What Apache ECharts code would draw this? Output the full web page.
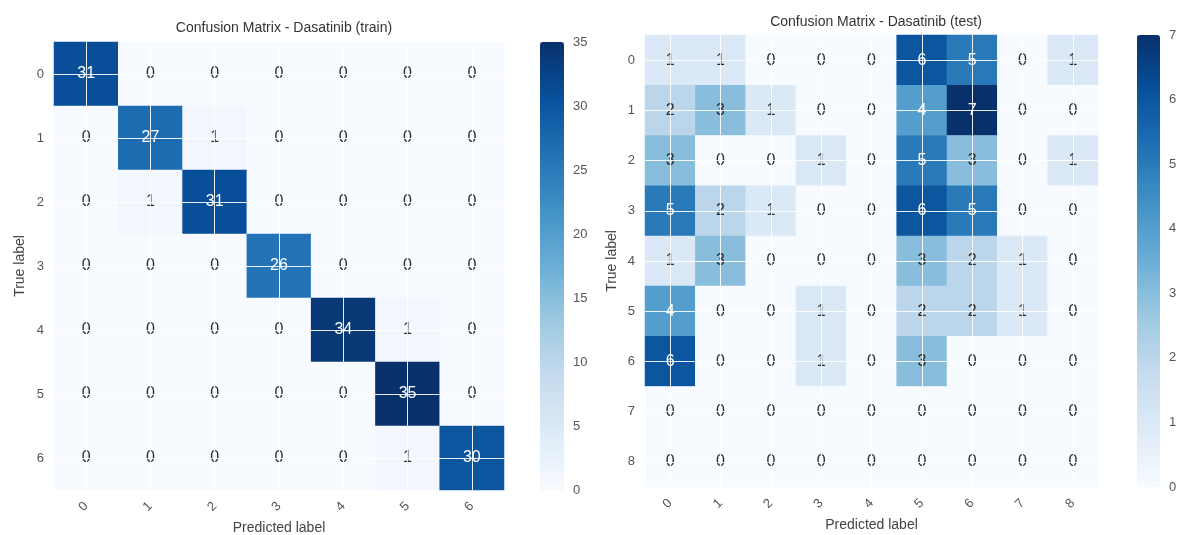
<!DOCTYPE html>
<html>
<head>
<meta charset="utf-8">
<script src="https://cdn.jsdelivr.net/npm/echarts@6/dist/echarts.min.js"></script>
<style>
  html, body { margin: 0; padding: 0; background: #fff; }
  #chart { width: 1181px; height: 535px; }
</style>
</head>
<body>
<div id="chart"></div>
<script>
// Class labels for both matrices
const trainLabels = ['0', '1', '2', '3', '4', '5', '6'];
const testLabels = ['0', '1', '2', '3', '4', '5', '6', '7', '8'];

// Confusion matrix rows (true label) x columns (predicted label)
const trainMatrix = [
  [31, 0, 0, 0, 0, 0, 0],
  [0, 27, 1, 0, 0, 0, 0],
  [0, 1, 31, 0, 0, 0, 0],
  [0, 0, 0, 26, 0, 0, 0],
  [0, 0, 0, 0, 34, 1, 0],
  [0, 0, 0, 0, 0, 35, 0],
  [0, 0, 0, 0, 0, 1, 30]
];
const testMatrix = [
  [1, 1, 0, 0, 0, 6, 5, 0, 1],
  [2, 3, 1, 0, 0, 4, 7, 0, 0],
  [3, 0, 0, 1, 0, 5, 3, 0, 1],
  [5, 2, 1, 0, 0, 6, 5, 0, 0],
  [1, 3, 0, 0, 0, 3, 2, 1, 0],
  [4, 0, 0, 1, 0, 2, 2, 1, 0],
  [6, 0, 0, 1, 0, 3, 0, 0, 0],
  [0, 0, 0, 0, 0, 0, 0, 0, 0],
  [0, 0, 0, 0, 0, 0, 0, 0, 0]
];

// Colorbar ranges and tick steps
const trainMax = 35, trainStep = 5;
const testMax = 7, testStep = 1;

// matplotlib "Blues" colormap stops
const blues = ['#f7fbff', '#deebf7', '#c6dbef', '#9ecae1', '#6baed6',
               '#4292c6', '#2171b5', '#08519c', '#08306b'];

const FONT = '"Liberation Sans", Arial, sans-serif';
const TICK = '#555555';
const DARK = '#2b2b2b';

function toCells(m, max) {
  const out = [];
  m.forEach((row, r) => row.forEach((v, c) => out.push({
    value: [c, r, v],
    // light text on dark cells, dark text elsewhere
    label: { color: v > max / 2 ? '#ffffff' : DARK }
  })));
  return out;
}

function gridLines(labels) {
  const d = [];
  labels.forEach(l => { d.push({ xAxis: l }); d.push({ yAxis: l }); });
  return d;
}

function heatSeries(idx, labels, matrix, max) {
  return {
    type: 'heatmap',
    xAxisIndex: idx, yAxisIndex: idx,
    data: toCells(matrix, max),
    label: {
      show: true,
      fontFamily: FONT,
      fontSize: 16,
      formatter: p => String(p.value[2]),
      color: DARK
    },
    itemStyle: { borderWidth: 0 },
    emphasis: { disabled: true },
    markLine: {
      silent: true,
      symbol: ['none', 'none'],
      label: { show: false },
      lineStyle: { color: '#ffffff', width: 1, type: 'solid', opacity: 0.9 },
      data: gridLines(labels),
      animation: false
    },
    z: 2
  };
}

function catAxis(grid, labels, isX, name, nameGap) {
  const ax = {
    type: 'category',
    gridIndex: grid,
    data: labels,
    name: name,
    nameLocation: 'middle',
    nameGap: nameGap,
    nameTextStyle: { fontFamily: FONT, fontSize: 14, color: '#444' },
    axisLine: { show: false },
    axisTick: { show: false },
    splitLine: { show: false },
    axisLabel: { fontFamily: FONT, fontSize: 13, color: TICK, margin: isX ? 14 : 10 }
  };
  if (isX) {
    ax.axisLabel.rotate = 45;
  } else {
    ax.inverse = true;
  }
  return ax;
}

function barAxis(grid, max, step) {
  return {
    type: 'value', gridIndex: grid, min: 0, max: max, interval: step, position: 'right',
    axisLine: { show: false }, axisTick: { show: false }, splitLine: { show: false },
    axisLabel: { fontFamily: FONT, fontSize: 13, color: TICK, margin: 9 }
  };
}

function gridBox(left, top, width, height) {
  return { left, top, width, height, containLabel: false, outerBoundsMode: 'none' };
}

const chart = echarts.init(document.getElementById('chart'), null, { renderer: 'canvas' });

chart.setOption({
  animation: false,
  backgroundColor: '#ffffff',
  title: [
    { text: 'Confusion Matrix - Dasatinib (train)', left: 279, top: 16, textAlign: 'center',
      textStyle: { fontFamily: FONT, fontSize: 14, fontWeight: 'normal', color: '#333' } },
    { text: 'Confusion Matrix - Dasatinib (test)', left: 871, top: 10, textAlign: 'center',
      textStyle: { fontFamily: FONT, fontSize: 14, fontWeight: 'normal', color: '#333' } }
  ],
  grid: [
    gridBox(54, 42, 450, 448),
    gridBox(645, 35, 453, 452),
    gridBox(540, 42, 24, 448),
    gridBox(1137, 35, 23, 452)
  ],
  xAxis: [
    catAxis(0, trainLabels, true, 'Predicted label', 26),
    catAxis(1, testLabels, true, 'Predicted label', 28),
    { type: 'value', gridIndex: 2, show: false },
    { type: 'value', gridIndex: 3, show: false }
  ],
  yAxis: [
    catAxis(0, trainLabels, false, 'True label', 27),
    catAxis(1, testLabels, false, 'True label', 26),
    barAxis(2, trainMax, trainStep),
    barAxis(3, testMax, testStep)
  ],
  visualMap: [
    { type: 'continuous', seriesIndex: 0, min: 0, max: trainMax, calculable: false,
      left: 540, top: 42, itemWidth: 24, itemHeight: 448, padding: 0,
      text: null, showLabel: false, inRange: { color: blues } },
    { type: 'continuous', seriesIndex: 1, min: 0, max: testMax, calculable: false,
      left: 1137, top: 35, itemWidth: 23, itemHeight: 452, padding: 0,
      text: null, showLabel: false, inRange: { color: blues } }
  ],
  series: [
    heatSeries(0, trainLabels, trainMatrix, trainMax),
    heatSeries(1, testLabels, testMatrix, testMax)
  ]
});
</script>
</body>
</html>
